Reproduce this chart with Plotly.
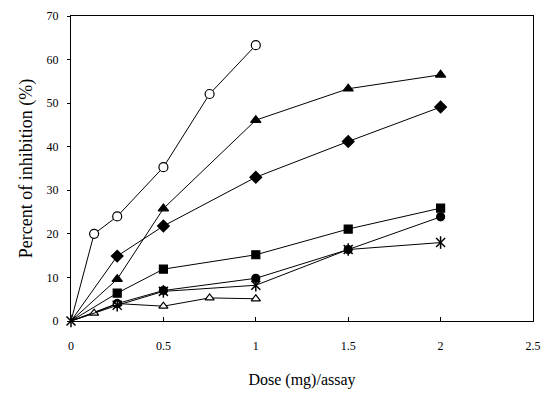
import plotly.graph_objects as go

# Data (dose in mg/assay, percent inhibition)
dose_open_circle = [0, 0.125, 0.25, 0.5, 0.75, 1.0]
inh_open_circle = [0, 20, 24, 35.3, 52.1, 63.3]

dose_filled_tri = [0, 0.25, 0.5, 1.0, 1.5, 2.0]
inh_filled_tri = [0, 9.6, 25.8, 46.1, 53.3, 56.5]

dose_diamond = [0, 0.25, 0.5, 1.0, 1.5, 2.0]
inh_diamond = [0, 14.9, 21.8, 33.0, 41.2, 49.1]

dose_square = [0, 0.25, 0.5, 1.0, 1.5, 2.0]
inh_square = [0, 6.4, 11.9, 15.2, 21.1, 25.9]

dose_filled_circle = [0, 0.25, 0.5, 1.0, 1.5, 2.0]
inh_filled_circle = [0, 4.0, 7.0, 9.8, 16.4, 23.9]

dose_star = [0, 0.25, 0.5, 1.0, 1.5, 2.0]
inh_star = [0, 3.6, 6.8, 8.2, 16.4, 18.0]

dose_open_tri = [0, 0.125, 0.25, 0.5, 0.75, 1.0]
inh_open_tri = [0, 1.8, 4.0, 3.4, 5.3, 5.1]

x_ticks = [0, 0.5, 1, 1.5, 2, 2.5]
y_ticks = [0, 10, 20, 30, 40, 50, 60, 70]

fig = go.Figure()

def add_series(x, y, symbol, size, fill):
    sizes = [size] * len(x)
    sizes[0] = 0  # no marker drawn at the origin
    fig.add_trace(go.Scatter(
        x=x, y=y, mode="lines+markers",
        line=dict(color="black", width=1),
        marker=dict(symbol=symbol, size=sizes, color=fill, opacity=1,
                    line=dict(color="black", width=1.2)),
        showlegend=False,
    ))

add_series(dose_filled_circle, inh_filled_circle, "circle", 8, "black")
add_series(dose_square, inh_square, "square", 8, "black")
add_series(dose_diamond, inh_diamond, "diamond", 9, "black")
add_series(dose_filled_tri, inh_filled_tri, "triangle-up", 9, "black")
add_series(dose_open_tri, inh_open_tri, "triangle-up", 8, "white")
add_series(dose_open_circle, inh_open_circle, "circle", 9, "white")

# star series: line + x marker, with vertical bar overlay to form asterisk
fig.add_trace(go.Scatter(
    x=dose_star, y=inh_star, mode="lines+markers",
    line=dict(color="black", width=1),
    marker=dict(symbol="x-thin-open", size=9, color="black",
                line=dict(color="black", width=1.5)),
    cliponaxis=False,
    showlegend=False,
))
fig.add_trace(go.Scatter(
    x=dose_star, y=inh_star, mode="markers",
    marker=dict(symbol="line-ns-open", size=9, color="black",
                line=dict(color="black", width=1.5)),
    cliponaxis=False,
    showlegend=False,
))

fig.update_layout(
    template="none",
    width=542, height=394,
    margin=dict(l=71, r=9, t=16, b=73),
    paper_bgcolor="white", plot_bgcolor="white",
    font=dict(family="Liberation Serif, Times New Roman, serif", size=12, color="black"),
    xaxis=dict(
        range=[0, 2.5], tickvals=x_ticks, ticktext=[str(v) for v in x_ticks],
        showgrid=False, zeroline=False, showline=True, linecolor="black", linewidth=1,
        mirror=True, ticks="inside", ticklen=4, tickcolor="black",
        ticklabelstandoff=14, ticklabeloverflow="allow",
        title=dict(text="Dose (mg)/assay", font=dict(size=16), standoff=21),
    ),
    yaxis=dict(
        range=[0, 70], tickvals=y_ticks,
        showgrid=False, zeroline=False, showline=True, linecolor="black", linewidth=1,
        mirror=True, ticks="outside", ticklen=3, tickcolor="black",
        ticklabelstandoff=6,
        title=dict(text="Percent of inhibition (%)", font=dict(size=18), standoff=9),
    ),
)

fig.write_html(
    "out.html",
    config={"displayModeBar": False},
    post_script="document.body.style.margin='0';document.body.style.overflow='hidden';",
)
